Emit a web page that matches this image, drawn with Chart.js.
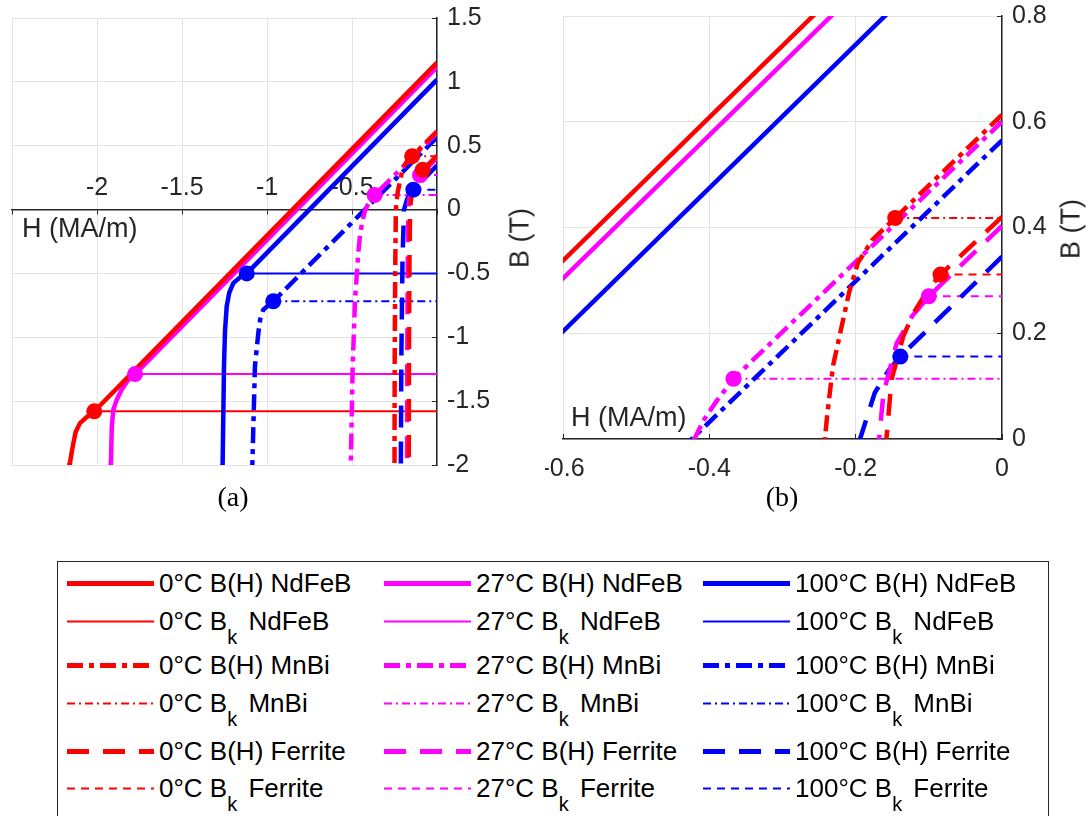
<!DOCTYPE html>
<html>
<head>
<meta charset="utf-8">
<script src="https://cdn.jsdelivr.net/npm/chart.js@4.4.0/dist/chart.umd.min.js"></script>
<style>
    body { margin: 0; background: #fff; width: 1089px; height: 816px; position: relative; overflow: hidden;
           font-family: "Liberation Sans", Arial, sans-serif; color: #262626; }
    .plot { position: absolute; top: 0; }
    .lbl { position: absolute; font-size: 27px; white-space: nowrap; color: #262626; }
    .rot { transform: translate(-50%, -50%) rotate(-90deg); }
    .cap { position: absolute; font-family: "Liberation Serif", "Times New Roman", serif; font-size: 28px;
           color: #000; transform: translate(-50%, -50%); }
    #legend { position: absolute; left: 57px; top: 561px; width: 992px; height: 256px;
              border: 1.5px solid #262626; box-sizing: border-box; }
    .entry { position: absolute; display: flex; align-items: center; font-size: 26px; color: #000;
             white-space: nowrap; transform: translateY(-50%); }
    .entry svg { margin-right: 5px; }
    .entry sub { font-size: 20px; vertical-align: -14px; line-height: 0; margin-right: 4px; }
</style>
</head>
<body>
<div class="plot" style="left:0"><canvas id="chartA" width="545" height="490"></canvas></div>
<div class="plot" style="left:545px"><canvas id="chartB" width="544" height="490"></canvas></div>

<div class="lbl" style="left:22px; top:228px; transform:translateY(-50%)">H (MA/m)</div>
<div class="lbl" style="left:571px; top:417px; transform:translateY(-50%)">H (MA/m)</div>
<div class="lbl rot" style="left:520px; top:238px">B (T)</div>
<div class="lbl rot" style="left:1071px; top:229px">B (T)</div>
<div class="cap" style="left:233px; top:497px">(a)</div>
<div class="cap" style="left:782px; top:497px">(b)</div>

<div id="legend"></div>

<script>
// H in MA/m, B in T
const temps = ['0°C', '27°C', '100°C'];
const materials = ['NdFeB', 'MnBi', 'Ferrite'];

// B(H) curves, [H, B]
const ndfeb0 = [[0, 1.15], [-2.016, -1.58], [-2.06, -1.625], [-2.1, -1.672], [-2.125, -1.74], [-2.139, -1.829], [-2.15, -1.91], [-2.159, -1.985], [-2.163, -2.1]];
const ndfeb27 = [[0, 1.116], [-1.776, -1.288], [-1.82, -1.34], [-1.855, -1.41], [-1.884, -1.49], [-1.904, -1.567], [-1.913, -1.7], [-1.918, -1.985], [-1.92, -2.1]];
const ndfeb100 = [[0, 1.017], [-1.119, -0.5], [-1.16, -0.532], [-1.198, -0.575], [-1.222, -0.65], [-1.237, -0.758], [-1.247, -0.95], [-1.253, -1.228], [-1.261, -1.993], [-1.262, -2.1]];

const mnbi0 = [[0, 0.613], [-0.146, 0.418], [-0.177, 0.377], [-0.197, 0.333], [-0.209, 0.277], [-0.221, 0.201], [-0.231, 0.138], [-0.239, 0.044], [-0.242, 0], [-0.246, -0.5], [-0.249, -1.2], [-0.25, -2.1]];
const mnbi27 = [[0, 0.6], [-0.367, 0.114], [-0.39, 0.072], [-0.408, 0.035], [-0.424, -0.01], [-0.44, -0.1], [-0.453, -0.2], [-0.463, -0.34], [-0.482, -0.7], [-0.496, -1.228], [-0.507, -1.99], [-0.508, -2.1]];
const mnbi100 = [[0, 0.565], [-0.963, -0.718], [-0.99, -0.748], [-1.022, -0.784], [-1.04, -0.86], [-1.051, -0.966], [-1.071, -1.228], [-1.086, -1.993], [-1.087, -2.1]];

const ferrite0 = [[0, 0.42], [-0.084, 0.311], [-0.1, 0.285], [-0.121, 0.238], [-0.135, 0.194], [-0.151, 0.112], [-0.158, 0], [-0.162, -0.4], [-0.165, -1.2], [-0.166, -2.1]];
const ferrite27 = [[0, 0.403], [-0.1, 0.27], [-0.112, 0.25], [-0.123, 0.232], [-0.144, 0.181], [-0.162, 0.087], [-0.168, 0], [-0.172, -0.4], [-0.175, -1.2], [-0.176, -2.1]];
const ferrite100 = [[0, 0.345], [-0.139, 0.156], [-0.155, 0.13], [-0.174, 0.087], [-0.194, 0], [-0.203, -0.4], [-0.21, -1.2], [-0.213, -2.1]];

// knee points (Hk, Bk) for 0, 27, 100 °C
const kneeNdFeB = [[-2.016, -1.58], [-1.776, -1.288], [-1.119, -0.5]];
const kneeMnBi = [[-0.146, 0.418], [-0.367, 0.114], [-0.963, -0.718]];
const kneeFerrite = [[-0.084, 0.311], [-0.1, 0.27], [-0.139, 0.156]];

// axis ticks
const ticksAx = [-2.5, -2, -1.5, -1, -0.5, 0];
const ticksAy = [-2, -1.5, -1, -0.5, 0, 0.5, 1, 1.5];
const ticksBx = [-0.6, -0.4, -0.2, 0];
const ticksBy = [0, 0.2, 0.4, 0.6, 0.8];

const curves = { NdFeB: [ndfeb0, ndfeb27, ndfeb100], MnBi: [mnbi0, mnbi27, mnbi100], Ferrite: [ferrite0, ferrite27, ferrite100] };
const knees = { NdFeB: kneeNdFeB, MnBi: kneeMnBi, Ferrite: kneeFerrite };

const colors = ['#ff0000', '#ff00ff', '#0000ff'];
const dashBH = { NdFeB: [], MnBi: [16, 6, 5, 6], Ferrite: [22, 14] };
const dashBk = { NdFeB: [], MnBi: [8, 4, 2, 4], Ferrite: [8, 6] };
const axisColor = '#262626';
const gridColor = '#e3e3e3';
const tickFont = { family: '"Liberation Sans", Arial, sans-serif', size: 25 };

const toXY = arr => arr.map(p => ({ x: p[0], y: p[1] }));
const fmt = v => String(+v.toFixed(2));

function buildDatasets() {
    const sets = [];
    materials.forEach(m => {
        temps.forEach((t, ti) => {
            const k = knees[m][ti];
            sets.push({
                data: toXY(curves[m][ti]), showLine: true, pointRadius: 0,
                borderColor: colors[ti], borderWidth: 4.5, borderDash: dashBH[m], order: 2
            });
            sets.push({
                data: toXY([k, [0, k[1]]]), showLine: true, pointRadius: 0,
                borderColor: colors[ti], borderWidth: 2, borderDash: dashBk[m], order: 3
            });
            sets.push({
                data: toXY([k]), pointRadius: 8, pointBackgroundColor: colors[ti],
                pointBorderWidth: 0, order: 0
            });
        });
    });
    return sets;
}

function tickValues(list) {
    return scale => { scale.ticks = list.map(v => ({ value: v })); };
}

// keep the plot box where padding puts it
function fixSize(w, h) {
    return s => {
        if (w !== null) s.width = w;
        if (h !== null) s.height = h;
        s.paddingTop = 0; s.paddingBottom = 0; s.paddingLeft = 0; s.paddingRight = 0;
    };
}

// (a) full view
new Chart(document.getElementById('chartA'), {
    type: 'scatter',
    data: { datasets: buildDatasets() },
    options: {
        animation: false, responsive: false,
        layout: { padding: { left: 12, top: 18, right: 0, bottom: 25 } },
        plugins: { legend: { display: false }, tooltip: { enabled: false } },
        scales: {
            x: {
                type: 'linear', position: { y: 0 }, min: -2.5, max: 0,
                afterBuildTicks: tickValues(ticksAx),
                afterFit: fixSize(null, null),
                ticks: {
                    font: tickFont, color: axisColor, padding: -40, maxRotation: 0, autoSkip: false,
                    callback: v => (v < -2.4 || v > -0.01) ? '' : fmt(v)
                },
                grid: { color: gridColor, tickColor: axisColor, tickLength: 4 },
                border: { color: axisColor, width: 1.5 }
            },
            y: {
                type: 'linear', position: 'right', min: -2, max: 1.5,
                afterBuildTicks: tickValues(ticksAy),
                afterFit: fixSize(108, null),
                ticks: { font: tickFont, color: axisColor, padding: 15, callback: v => fmt(v) },
                grid: { color: gridColor, tickColor: axisColor, tickLength: -5 },
                border: { color: axisColor, width: 1.5 }
            }
        }
    }
});

// (b) zoom near origin
new Chart(document.getElementById('chartB'), {
    type: 'scatter',
    data: { datasets: buildDatasets() },
    options: {
        animation: false, responsive: false,
        layout: { padding: { left: 18, top: 16, right: 0, bottom: 0 } },
        plugins: { legend: { display: false }, tooltip: { enabled: false } },
        scales: {
            x: {
                type: 'linear', position: 'bottom', min: -0.6, max: 0,
                afterBuildTicks: tickValues(ticksBx),
                afterFit: fixSize(null, 51),
                ticks: { font: tickFont, color: axisColor, padding: 20, maxRotation: 0, autoSkip: false, callback: v => fmt(v) },
                grid: { color: gridColor, tickColor: axisColor, tickLength: -5 },
                border: { color: axisColor, width: 1.5 }
            },
            y: {
                type: 'linear', position: 'right', min: 0, max: 0.8,
                afterBuildTicks: tickValues(ticksBy),
                afterFit: fixSize(87, null),
                ticks: { font: tickFont, color: axisColor, padding: 15, callback: v => fmt(v) },
                grid: { color: gridColor, tickColor: axisColor, tickLength: -5 },
                border: { color: axisColor, width: 1.5 }
            }
        }
    }
});

// legend (HTML, for the B_k subscripts)
const legendRowsY = [21, 59, 103, 141, 189, 226];
const legendColsX = [9, 326, 645];
const legendBox = document.getElementById('legend');
materials.forEach((m, mi) => {
    ['B(H)', 'B<sub>k</sub>'].forEach((kind, ki) => {
        const row = mi * 2 + ki;
        temps.forEach((t, ti) => {
            const w = ki === 0 ? 5 : 2;
            const dash = (ki === 0 ? dashBH[m] : dashBk[m]).join(' ');
            const el = document.createElement('div');
            el.className = 'entry';
            el.style.left = legendColsX[ti] + 'px';
            el.style.top = legendRowsY[row] + 'px';
            el.innerHTML = `<svg width="87" height="12"><line x1="0" y1="6" x2="87" y2="6" stroke="${colors[ti]}" stroke-width="${w}" stroke-dasharray="${dash}"/></svg><span>${t} ${kind} ${m}</span>`;
            legendBox.appendChild(el);
        });
    });
});
</script>
</body>
</html>
